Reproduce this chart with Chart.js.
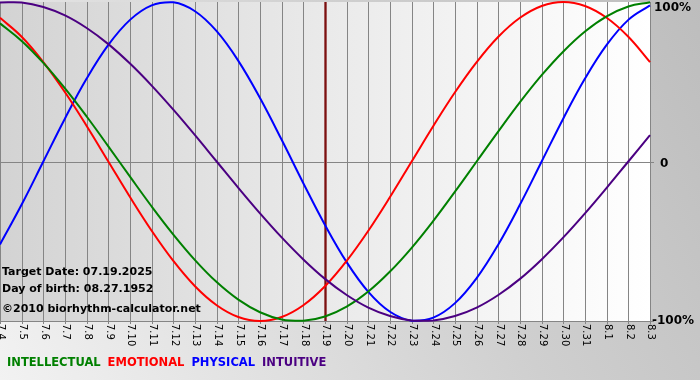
<!DOCTYPE html>
<html>
<head>
<meta charset="utf-8">
<script src="https://cdn.jsdelivr.net/npm/chart.js@4"></script>
<style>
html,body{margin:0;padding:0;background:#d0d0d0;}
#wrap{width:700px;height:380px;position:relative;}
</style>
</head>
<body>
<div id="wrap"><canvas id="c" width="700" height="380"></canvas></div>
<script>
const dates = ["7.4","7.5","7.6","7.7","7.8","7.9","7.10","7.11","7.12","7.13","7.14","7.15","7.16","7.17","7.18","7.19","7.20","7.21","7.22","7.23","7.24","7.25","7.26","7.27","7.28","7.29","7.30","7.31","8.1","8.2","8.3"];
const intellectual = [0.866,0.756,0.618,0.458,0.282,0.095,-0.095,-0.282,-0.458,-0.618,-0.756,-0.866,-0.945,-0.990,-0.999,-0.972,-0.910,-0.815,-0.690,-0.541,-0.372,-0.189,0,0.189,0.372,0.541,0.690,0.815,0.910,0.972,0.999];
const emotional = [0.901,0.782,0.623,0.434,0.223,0,-0.223,-0.434,-0.623,-0.782,-0.901,-0.975,-1,-0.975,-0.901,-0.782,-0.623,-0.434,-0.223,0,0.223,0.434,0.623,0.782,0.901,0.975,1,0.975,0.901,0.782,0.623];
const physical = [-0.520,-0.270,0,0.270,0.520,0.731,0.888,0.979,0.998,0.942,0.817,0.631,0.398,0.136,-0.136,-0.398,-0.631,-0.817,-0.942,-0.998,-0.979,-0.888,-0.731,-0.520,-0.270,0,0.270,0.520,0.731,0.888,0.979];
const intuitive = [0.997,0.997,0.969,0.916,0.837,0.736,0.614,0.476,0.325,0.165,0,-0.165,-0.325,-0.476,-0.614,-0.736,-0.837,-0.916,-0.969,-0.997,-0.997,-0.969,-0.916,-0.837,-0.736,-0.614,-0.476,-0.325,-0.165,0,0.165];
const yTicks = [1, 0, -1];
const yTickLabels = ["100%", "0", "-100%"];
const targetDate = "7.19";
const infoLines = ["Target Date: 07.19.2025", "Day of birth: 08.27.1952", "\u00a92010 biorhythm-calculator.net"];
const legendItems = [["INTELLECTUAL","#008000"],["EMOTIONAL","#ff0000"],["PHYSICAL","#0000ff"],["INTUITIVE","#4b0082"]];

const deco = {
  id: 'deco',
  beforeDraw(chart) {
    const ctx = chart.ctx, W = chart.width, H = chart.height, a = chart.chartArea;
    const xs = chart.scales.x, ys = chart.scales.y;
    ctx.save();
    let g = ctx.createLinearGradient(0, H, W, 0);
    g.addColorStop(0, '#f2f2f2');
    g.addColorStop(0.6, '#cfcfcf');
    g.addColorStop(1, '#bdbdbd');
    ctx.fillStyle = g;
    ctx.fillRect(0, 0, W, H);
    g = ctx.createLinearGradient(a.left, 0, a.right, 0);
    g.addColorStop(0, '#d3d3d3');
    g.addColorStop(0.55, '#ececec');
    g.addColorStop(1, '#ffffff');
    ctx.fillStyle = g;
    ctx.fillRect(a.left, a.top, a.right - a.left, a.bottom - a.top);
    ctx.strokeStyle = '#858585';
    ctx.lineWidth = 1;
    dates.forEach((d, i) => {
      const x = Math.round(xs.getPixelForValue(i)) + 0.5;
      ctx.beginPath(); ctx.moveTo(x, a.top); ctx.lineTo(x, a.bottom + 3); ctx.stroke();
    });
    [0, -1].forEach(v => {
      const y = Math.round(ys.getPixelForValue(v)) + 0.5;
      ctx.beginPath(); ctx.moveTo(a.left, y); ctx.lineTo(a.right + 4, y); ctx.stroke();
    });
    const ti = dates.indexOf(targetDate);
    const tx = Math.round(xs.getPixelForValue(ti)) + 0.5;
    ctx.strokeStyle = '#b07070';
    ctx.lineWidth = 3;
    ctx.beginPath(); ctx.moveTo(tx, a.top); ctx.lineTo(tx, a.bottom); ctx.stroke();
    ctx.strokeStyle = '#7a1010';
    ctx.lineWidth = 1.5;
    ctx.beginPath(); ctx.moveTo(tx, a.top); ctx.lineTo(tx, a.bottom); ctx.stroke();
    ctx.restore();
  },
  afterDraw(chart) {
    const ctx = chart.ctx, a = chart.chartArea;
    const xs = chart.scales.x, ys = chart.scales.y;
    ctx.save();
    ctx.fillStyle = '#000';
    ctx.font = '10px "DejaVu Sans"';
    ctx.textBaseline = 'middle';
    ctx.textAlign = 'left';
    dates.forEach((d, i) => {
      const x = xs.getPixelForValue(i);
      ctx.save();
      ctx.translate(x + 1, a.bottom + 3);
      ctx.rotate(Math.PI / 2);
      ctx.fillText(d, 0, 0);
      ctx.restore();
    });
    ctx.font = 'bold 12px "DejaVu Sans"';
    yTicks.forEach((v, i) => {
      const y = ys.getPixelForValue(v);
      let yy = y;
      if (v === 1) yy = y + 6;
      if (v === 0) yy = y + 2;
      const xx = v === 0 ? a.right + 10 : (v === 1 ? a.right + 4 : a.right + 2);
      ctx.fillText(yTickLabels[i], xx, yy);
    });
    ctx.font = 'bold 11px "DejaVu Sans"';
    ctx.textBaseline = 'alphabetic';
    ctx.fillText(infoLines[0], 2, 275);
    ctx.fillText(infoLines[1], 2, 292);
    ctx.fillText(infoLines[2], 2, 312);
    ctx.font = 'bold 11.5px "DejaVu Sans"';
    let lx = 7;
    legendItems.forEach(([t, c]) => {
      ctx.fillStyle = c;
      ctx.fillText(t, lx, 366);
      lx += ctx.measureText(t).width + 7;
    });
    ctx.restore();
  }
};

const mk = (label, data, color) => ({
  label, data, borderColor: color, borderWidth: 2, pointRadius: 0, tension: 0.4, fill: false, clip: false
});

new Chart(document.getElementById('c'), {
  type: 'line',
  data: {
    labels: dates,
    datasets: [
      mk('INTUITIVE', intuitive, '#4b0082'),
      mk('INTELLECTUAL', intellectual, '#008000'),
      mk('EMOTIONAL', emotional, '#ff0000'),
      mk('PHYSICAL', physical, '#0000ff')
    ]
  },
  options: {
    responsive: false,
    animation: false,
    events: [],
    layout: { padding: { left: 0, top: 2, right: 50, bottom: 59 } },
    plugins: { legend: { display: false }, tooltip: { enabled: false } },
    scales: {
      x: { display: false, offset: false },
      y: { display: false, min: -1, max: 1 }
    }
  },
  plugins: [deco]
});
</script>
</body>
</html>
